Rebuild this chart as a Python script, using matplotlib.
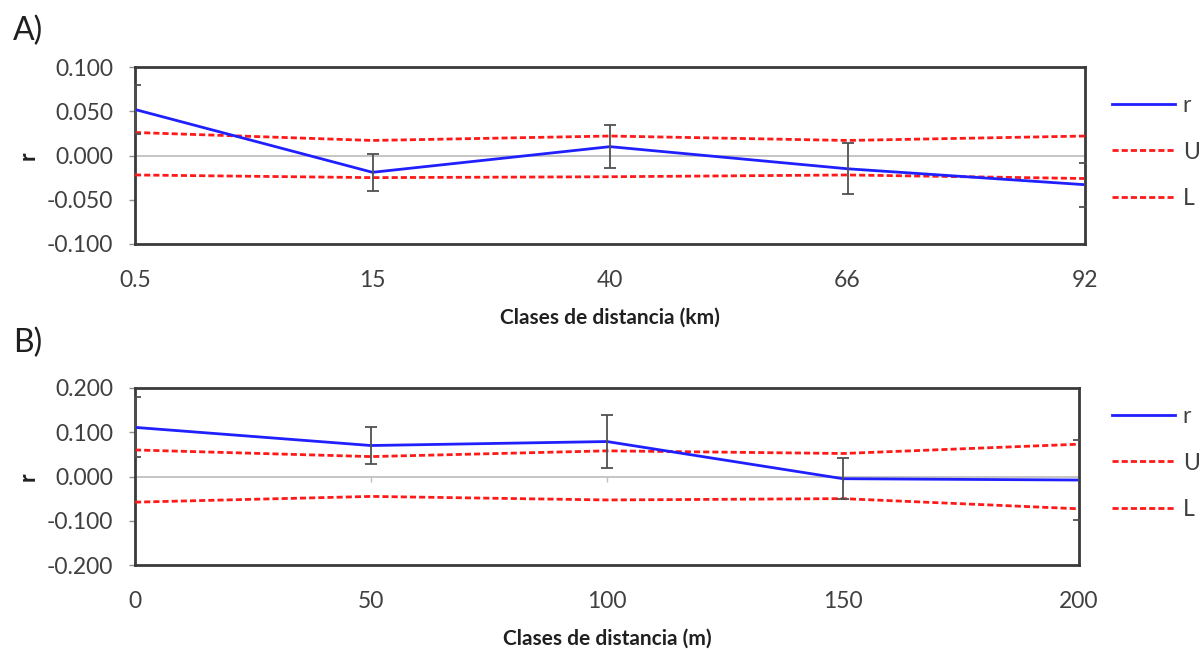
import numpy as np
import matplotlib.pyplot as plt

plt.rcParams['font.family'] = ['Lato', 'DejaVu Sans']

# Panel A: distance classes in km
labels_a = ["0.5", "15", "40", "66", "92"]
r_a = [0.052, -0.019, 0.010, -0.015, -0.033]
err_a = [0.028, 0.021, 0.024, 0.029, 0.025]
upper_a = [0.026, 0.017, 0.022, 0.017, 0.022]
lower_a = [-0.022, -0.025, -0.024, -0.022, -0.026]
yticks_a = [-0.100, -0.050, 0.000, 0.050, 0.100]

# Panel B: distance classes in m
labels_b = ["0", "50", "100", "150", "200"]
r_b = [0.111, 0.070, 0.079, -0.005, -0.008]
err_b = [0.068, 0.042, 0.059, 0.046, 0.090]
upper_b = [0.060, 0.045, 0.058, 0.052, 0.073]
lower_b = [-0.058, -0.045, -0.053, -0.050, -0.073]
yticks_b = [-0.200, -0.100, 0.000, 0.100, 0.200]

TEXT = '#404040'
BLUE = '#2020ff'
RED = '#ff1a1a'
DASH = (0, (2.2, 1.1))
FS = 16.5


def draw_panel(fig, rect, labels, r, err, upper, lower, yticks, xlabel, zero_ticks=False):
    ax = fig.add_axes(rect)
    x = np.arange(len(labels))

    ax.axhline(0, color='#c0c0c0', linewidth=1.3, zorder=1)
    if zero_ticks:
        ax.vlines(x[1:-1], -0.012, 0, color='#c0c0c0', linewidth=1.0, zorder=1)

    l_r, = ax.plot(x, r, color=BLUE, linewidth=2.0, zorder=4, label='r')
    l_u, = ax.plot(x, upper, color=RED, linewidth=2.0, linestyle=DASH, zorder=3, label='U')
    l_l, = ax.plot(x, lower, color=RED, linewidth=2.0, linestyle=DASH, zorder=3, label='L')
    ax.errorbar(x, r, yerr=err, fmt='none', ecolor='#505050', elinewidth=1.3,
                capsize=4, capthick=1.3, zorder=5)

    ax.set_xlim(x[0], x[-1])
    ax.set_ylim(yticks[0], yticks[-1])
    ax.set_yticks(yticks)
    ax.set_yticklabels([f'{v:.3f}' for v in yticks])
    ax.set_xticks(x)
    ax.set_xticklabels(labels)

    ax.tick_params(axis='y', length=4.5, width=1, color='#909090', pad=11,
                   labelsize=FS, labelcolor=TEXT)
    ax.tick_params(axis='x', length=0, pad=19, labelsize=FS, labelcolor=TEXT)

    for s in ax.spines.values():
        s.set_color('#3a3a3a')
        s.set_linewidth(2.0)

    ax.set_xlabel(xlabel, fontsize=15, fontweight='bold', color='#202020', va='center')
    ax.xaxis.set_label_coords(0.5, -0.415)
    ax.set_ylabel('r', fontsize=FS, fontweight='bold', color='#202020', va='center')
    ax.yaxis.set_label_coords(-0.113, 0.5)
    return ax, [l_r, l_u, l_l]


def main():
    W, H = 1204, 650
    fig = plt.figure(figsize=(W / 100, H / 100), dpi=100)

    ax_a, handles_a = draw_panel(
        fig, [135 / W, 1 - 244 / H, 950 / W, 177 / H],
        labels_a, r_a, err_a, upper_a, lower_a, yticks_a, 'Clases de distancia (km)')
    ax_b, handles_b = draw_panel(
        fig, [135 / W, 1 - 565 / H, 944 / W, 177 / H],
        labels_b, r_b, err_b, upper_b, lower_b, yticks_b, 'Clases de distancia (m)',
        zero_ticks=True)

    for handles, yc in [(handles_a, 152), (handles_b, 463)]:
        leg = fig.legend(handles=handles, loc='center left',
                         bbox_to_anchor=(1112 / W, 1 - yc / H), frameon=False,
                         fontsize=FS, handlelength=2.75, handletextpad=0.34,
                         labelspacing=1.12, borderpad=0, borderaxespad=0)
        for t in leg.get_texts():
            t.set_color(TEXT)

    fig.text(28 / W, 1 - 31 / H, 'A)', fontsize=23, color='#202020', ha='center', va='center')
    fig.text(28 / W, 1 - 343 / H, 'B)', fontsize=23, color='#202020', ha='center', va='center')

    fig.savefig('out.png', dpi=100)


if __name__ == "__main__":
    main()
